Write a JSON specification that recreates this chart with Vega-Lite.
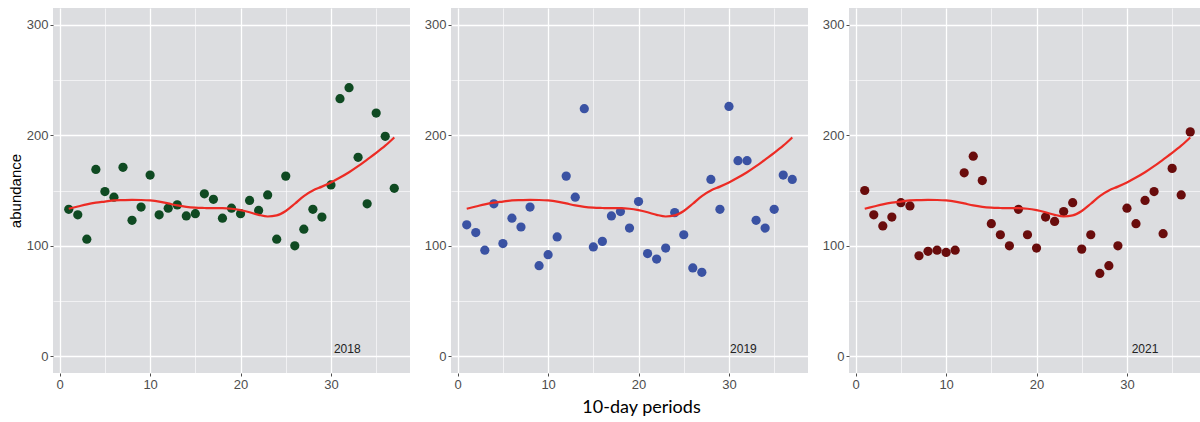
{
  "$schema": "https://vega.github.io/schema/vega-lite/v6.json",
  "padding": {"left": 8, "top": 8, "right": 0, "bottom": 0},
  "background": "white",
  "bounds": "flush",
  "spacing": 41,
  "datasets": {
    "pts": [
      {"year": "2018", "period": 1, "abundance": 133}, {"year": "2018", "period": 2, "abundance": 128}, {"year": "2018", "period": 3, "abundance": 106}, {"year": "2018", "period": 4, "abundance": 169}, {"year": "2018", "period": 5, "abundance": 149}, {"year": "2018", "period": 6, "abundance": 144}, {"year": "2018", "period": 7, "abundance": 171}, {"year": "2018", "period": 8, "abundance": 123}, {"year": "2018", "period": 9, "abundance": 135}, {"year": "2018", "period": 10, "abundance": 164},
      {"year": "2018", "period": 11, "abundance": 128}, {"year": "2018", "period": 12, "abundance": 134}, {"year": "2018", "period": 13, "abundance": 137}, {"year": "2018", "period": 14, "abundance": 127}, {"year": "2018", "period": 15, "abundance": 129}, {"year": "2018", "period": 16, "abundance": 147}, {"year": "2018", "period": 17, "abundance": 142}, {"year": "2018", "period": 18, "abundance": 125}, {"year": "2018", "period": 19, "abundance": 134}, {"year": "2018", "period": 20, "abundance": 129},
      {"year": "2018", "period": 21, "abundance": 141}, {"year": "2018", "period": 22, "abundance": 132}, {"year": "2018", "period": 23, "abundance": 146}, {"year": "2018", "period": 24, "abundance": 106}, {"year": "2018", "period": 25, "abundance": 163}, {"year": "2018", "period": 26, "abundance": 100}, {"year": "2018", "period": 27, "abundance": 115}, {"year": "2018", "period": 28, "abundance": 133}, {"year": "2018", "period": 29, "abundance": 126}, {"year": "2018", "period": 30, "abundance": 155},
      {"year": "2018", "period": 31, "abundance": 233}, {"year": "2018", "period": 32, "abundance": 243}, {"year": "2018", "period": 33, "abundance": 180}, {"year": "2018", "period": 34, "abundance": 138}, {"year": "2018", "period": 35, "abundance": 220}, {"year": "2018", "period": 36, "abundance": 199}, {"year": "2018", "period": 37, "abundance": 152},
      {"year": "2019", "period": 1, "abundance": 119}, {"year": "2019", "period": 2, "abundance": 112}, {"year": "2019", "period": 3, "abundance": 96}, {"year": "2019", "period": 4, "abundance": 138}, {"year": "2019", "period": 5, "abundance": 102}, {"year": "2019", "period": 6, "abundance": 125}, {"year": "2019", "period": 7, "abundance": 117}, {"year": "2019", "period": 8, "abundance": 135}, {"year": "2019", "period": 9, "abundance": 82}, {"year": "2019", "period": 10, "abundance": 92},
      {"year": "2019", "period": 11, "abundance": 108}, {"year": "2019", "period": 12, "abundance": 163}, {"year": "2019", "period": 13, "abundance": 144}, {"year": "2019", "period": 14, "abundance": 224}, {"year": "2019", "period": 15, "abundance": 99}, {"year": "2019", "period": 16, "abundance": 104}, {"year": "2019", "period": 17, "abundance": 127}, {"year": "2019", "period": 18, "abundance": 131}, {"year": "2019", "period": 19, "abundance": 116}, {"year": "2019", "period": 20, "abundance": 140},
      {"year": "2019", "period": 21, "abundance": 93}, {"year": "2019", "period": 22, "abundance": 88}, {"year": "2019", "period": 23, "abundance": 98}, {"year": "2019", "period": 24, "abundance": 130}, {"year": "2019", "period": 25, "abundance": 110}, {"year": "2019", "period": 26, "abundance": 80}, {"year": "2019", "period": 27, "abundance": 76}, {"year": "2019", "period": 28, "abundance": 160}, {"year": "2019", "period": 29, "abundance": 133}, {"year": "2019", "period": 30, "abundance": 226},
      {"year": "2019", "period": 31, "abundance": 177}, {"year": "2019", "period": 32, "abundance": 177}, {"year": "2019", "period": 33, "abundance": 123}, {"year": "2019", "period": 34, "abundance": 116}, {"year": "2019", "period": 35, "abundance": 133}, {"year": "2019", "period": 36, "abundance": 164}, {"year": "2019", "period": 37, "abundance": 160},
      {"year": "2021", "period": 1, "abundance": 150}, {"year": "2021", "period": 2, "abundance": 128}, {"year": "2021", "period": 3, "abundance": 118}, {"year": "2021", "period": 4, "abundance": 126}, {"year": "2021", "period": 5, "abundance": 139}, {"year": "2021", "period": 6, "abundance": 136}, {"year": "2021", "period": 7, "abundance": 91}, {"year": "2021", "period": 8, "abundance": 95}, {"year": "2021", "period": 9, "abundance": 96}, {"year": "2021", "period": 10, "abundance": 94},
      {"year": "2021", "period": 11, "abundance": 96}, {"year": "2021", "period": 12, "abundance": 166}, {"year": "2021", "period": 13, "abundance": 181}, {"year": "2021", "period": 14, "abundance": 159}, {"year": "2021", "period": 15, "abundance": 120}, {"year": "2021", "period": 16, "abundance": 110}, {"year": "2021", "period": 17, "abundance": 100}, {"year": "2021", "period": 18, "abundance": 133}, {"year": "2021", "period": 19, "abundance": 110}, {"year": "2021", "period": 20, "abundance": 98},
      {"year": "2021", "period": 21, "abundance": 126}, {"year": "2021", "period": 22, "abundance": 122}, {"year": "2021", "period": 23, "abundance": 131}, {"year": "2021", "period": 24, "abundance": 139}, {"year": "2021", "period": 25, "abundance": 97}, {"year": "2021", "period": 26, "abundance": 110}, {"year": "2021", "period": 27, "abundance": 75}, {"year": "2021", "period": 28, "abundance": 82}, {"year": "2021", "period": 29, "abundance": 100}, {"year": "2021", "period": 30, "abundance": 134},
      {"year": "2021", "period": 31, "abundance": 120}, {"year": "2021", "period": 32, "abundance": 141}, {"year": "2021", "period": 33, "abundance": 149}, {"year": "2021", "period": 34, "abundance": 111}, {"year": "2021", "period": 35, "abundance": 170}, {"year": "2021", "period": 36, "abundance": 146}, {"year": "2021", "period": 37, "abundance": 203}
    ],
    "smooth": [
      {"period": 1, "fit": 133.5}, {"period": 2, "fit": 135.5}, {"period": 3, "fit": 137.5}, {"period": 4, "fit": 139}, {"period": 5, "fit": 140}, {"period": 6, "fit": 141}, {"period": 7, "fit": 141.3}, {"period": 8, "fit": 141.5}, {"period": 9, "fit": 141.4}, {"period": 10, "fit": 141},
      {"period": 11, "fit": 140}, {"period": 12, "fit": 138.3}, {"period": 13, "fit": 136.5}, {"period": 14, "fit": 135.2}, {"period": 15, "fit": 134.5}, {"period": 16, "fit": 134.2}, {"period": 17, "fit": 134}, {"period": 18, "fit": 134}, {"period": 19, "fit": 133.5}, {"period": 20, "fit": 132.2},
      {"period": 21, "fit": 130.3}, {"period": 22, "fit": 128}, {"period": 23, "fit": 126.5}, {"period": 24, "fit": 127.5}, {"period": 25, "fit": 131.5}, {"period": 26, "fit": 138}, {"period": 27, "fit": 145}, {"period": 28, "fit": 150}, {"period": 29, "fit": 153.5}, {"period": 30, "fit": 157.3},
      {"period": 31, "fit": 161.7}, {"period": 32, "fit": 166.5}, {"period": 33, "fit": 172}, {"period": 34, "fit": 178}, {"period": 35, "fit": 184}, {"period": 36, "fit": 190.5}, {"period": 37, "fit": 198}
    ],
    "labels": [{"year": "2018"}, {"year": "2019"}, {"year": "2021"}]
  },
  "config": {
    "view": {"fill": "#dcdde0", "stroke": null},
    "axis": {
      "domain": false,
      "grid": true,
      "gridColor": "white",
      "labelFont": "Liberation Sans",
      "labelFontSize": 13,
      "labelColor": "#4d4d4d",
      "labelFlush": false,
      "labelOverlap": false,
      "labelPadding": 2,
      "tickColor": "#4d4d4d",
      "tickSize": 3,
      "titleFont": "Liberation Sans",
      "titleFontWeight": "normal",
      "titleColor": "black"
    }
  },
  "hconcat": [
    {
      "width": 357,
      "height": 365,
      "layer": [
        {
          "data": {"name": "pts"},
          "transform": [{"filter": "datum.year === '2018'"}],
          "mark": {"type": "point", "filled": true, "size": 85, "opacity": 1, "color": "#0f4a22"},
          "encoding": {
            "x": {"field": "period", "type": "quantitative", "scale": {"domain": [-0.74, 38.74], "nice": false, "zero": false},
              "axis": {"title": null, "values": [0, 5, 10, 15, 20, 25, 30, 35], "labelExpr": "datum.value % 10 === 0 ? datum.label : ''",
                "gridWidth": {"condition": {"test": "datum.value % 10 === 0", "value": 1.3}, "value": 0.6},
                "tickOpacity": {"condition": {"test": "datum.value % 10 === 0", "value": 1}, "value": 0}}},
            "y": {"field": "abundance", "type": "quantitative", "scale": {"domain": [-15, 315], "nice": false, "zero": false},
              "axis": {"title": "abundance", "titleFontSize": 15, "titlePadding": 3, "values": [0, 50, 100, 150, 200, 250, 300], "labelExpr": "datum.value % 100 === 0 ? datum.label : ''",
                "gridWidth": {"condition": {"test": "datum.value % 100 === 0", "value": 1.3}, "value": 0.6},
                "tickOpacity": {"condition": {"test": "datum.value % 100 === 0", "value": 1}, "value": 0}}}
          }
        },
        {
          "data": {"name": "smooth"},
          "mark": {"type": "line", "color": "#ec2b24", "strokeWidth": 2.2, "interpolate": "monotone"},
          "encoding": {"x": {"field": "period", "type": "quantitative"}, "y": {"field": "fit", "type": "quantitative"}}
        },
        {
          "data": {"name": "labels"},
          "transform": [{"filter": "datum.year === '2018'"}],
          "mark": {"type": "text", "font": "Liberation Sans", "fontSize": 12, "color": "#222222", "align": "center", "baseline": "middle"},
          "encoding": {"x": {"datum": 31.8}, "y": {"datum": 7}, "text": {"field": "year"}}
        }
      ]
    },
    {
      "width": 357,
      "height": 365,
      "layer": [
        {
          "data": {"name": "pts"},
          "transform": [{"filter": "datum.year === '2019'"}],
          "mark": {"type": "point", "filled": true, "size": 85, "opacity": 1, "color": "#3a52a3"},
          "encoding": {
            "x": {"field": "period", "type": "quantitative", "scale": {"domain": [-0.74, 38.74], "nice": false, "zero": false},
              "axis": {"title": "10-day periods", "titleFont": "Lato", "titleFontSize": 18, "titleX": 190, "titleY": 39, "titleBaseline": "alphabetic", "titleAlign": "center",
                "values": [0, 5, 10, 15, 20, 25, 30, 35], "labelExpr": "datum.value % 10 === 0 ? datum.label : ''",
                "gridWidth": {"condition": {"test": "datum.value % 10 === 0", "value": 1.3}, "value": 0.6},
                "tickOpacity": {"condition": {"test": "datum.value % 10 === 0", "value": 1}, "value": 0}}},
            "y": {"field": "abundance", "type": "quantitative", "scale": {"domain": [-15, 315], "nice": false, "zero": false},
              "axis": {"title": null, "values": [0, 50, 100, 150, 200, 250, 300], "labelExpr": "datum.value % 100 === 0 ? datum.label : ''",
                "gridWidth": {"condition": {"test": "datum.value % 100 === 0", "value": 1.3}, "value": 0.6},
                "tickOpacity": {"condition": {"test": "datum.value % 100 === 0", "value": 1}, "value": 0}}}
          }
        },
        {
          "data": {"name": "smooth"},
          "mark": {"type": "line", "color": "#ec2b24", "strokeWidth": 2.2, "interpolate": "monotone"},
          "encoding": {"x": {"field": "period", "type": "quantitative"}, "y": {"field": "fit", "type": "quantitative"}}
        },
        {
          "data": {"name": "labels"},
          "transform": [{"filter": "datum.year === '2019'"}],
          "mark": {"type": "text", "font": "Liberation Sans", "fontSize": 12, "color": "#222222", "align": "center", "baseline": "middle"},
          "encoding": {"x": {"datum": 31.6}, "y": {"datum": 7}, "text": {"field": "year"}}
        }
      ]
    },
    {
      "width": 352,
      "height": 365,
      "layer": [
        {
          "data": {"name": "pts"},
          "transform": [{"filter": "datum.year === '2021'"}],
          "mark": {"type": "point", "filled": true, "size": 85, "opacity": 1, "color": "#690c0c"},
          "encoding": {
            "x": {"field": "period", "type": "quantitative", "scale": {"domain": [-0.74, 38.19], "nice": false, "zero": false},
              "axis": {"title": null, "values": [0, 5, 10, 15, 20, 25, 30, 35], "labelExpr": "datum.value % 10 === 0 ? datum.label : ''",
                "gridWidth": {"condition": {"test": "datum.value % 10 === 0", "value": 1.3}, "value": 0.6},
                "tickOpacity": {"condition": {"test": "datum.value % 10 === 0", "value": 1}, "value": 0}}},
            "y": {"field": "abundance", "type": "quantitative", "scale": {"domain": [-15, 315], "nice": false, "zero": false},
              "axis": {"title": null, "values": [0, 50, 100, 150, 200, 250, 300], "labelExpr": "datum.value % 100 === 0 ? datum.label : ''",
                "gridWidth": {"condition": {"test": "datum.value % 100 === 0", "value": 1.3}, "value": 0.6},
                "tickOpacity": {"condition": {"test": "datum.value % 100 === 0", "value": 1}, "value": 0}}}
          }
        },
        {
          "data": {"name": "smooth"},
          "mark": {"type": "line", "color": "#ec2b24", "strokeWidth": 2.2, "interpolate": "monotone"},
          "encoding": {"x": {"field": "period", "type": "quantitative"}, "y": {"field": "fit", "type": "quantitative"}}
        },
        {
          "data": {"name": "labels"},
          "transform": [{"filter": "datum.year === '2021'"}],
          "mark": {"type": "text", "font": "Liberation Sans", "fontSize": 12, "color": "#222222", "align": "center", "baseline": "middle"},
          "encoding": {"x": {"datum": 32}, "y": {"datum": 7}, "text": {"field": "year"}}
        }
      ]
    }
  ]
}
